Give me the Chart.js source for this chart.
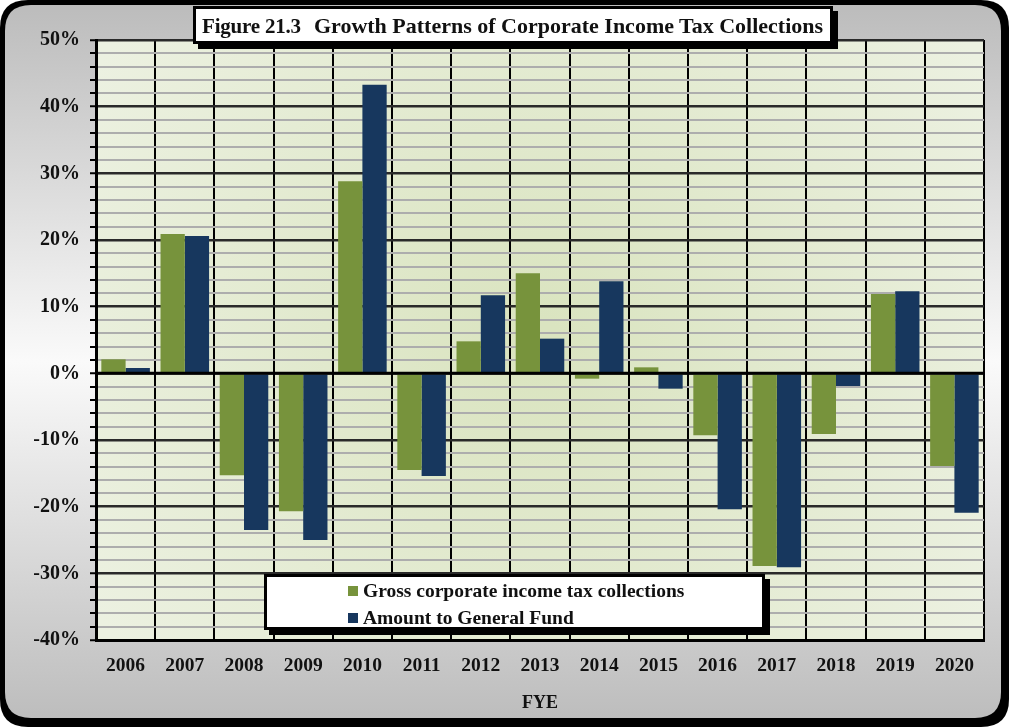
<!DOCTYPE html>
<html><head><meta charset="utf-8">
<script src="https://cdn.jsdelivr.net/npm/chart.js@4.4.1/dist/chart.umd.min.js"></script>
<style>
html,body{margin:0;padding:0;background:#fff;}
#wrap{position:relative;width:1009px;height:727px;overflow:hidden;}
canvas{position:absolute;left:0;top:0;}
.title{position:absolute;left:193px;top:6px;width:634px;height:32px;background:#fff;border:3px solid #000;box-shadow:5px 5px 0 #000;
 font-family:"Liberation Serif","Times New Roman",serif;font-weight:bold;color:#111;white-space:nowrap;line-height:33px;}
.title .fig{font-size:21px;margin-left:6px;letter-spacing:-0.2px;}
.title .main{font-size:22px;margin-left:13px;}
.legend{position:absolute;left:264px;top:574px;width:495px;height:50px;background:#fff;border:3px solid #000;box-shadow:5px 5px 0 #000;
 font-family:"Liberation Serif","Times New Roman",serif;font-weight:bold;font-size:19.5px;color:#111;}
.legend .row{position:absolute;left:81px;white-space:nowrap;line-height:22px;}
.legend .sw{display:inline-block;width:10px;height:10px;margin-right:5px;vertical-align:1px;}
</style>
</head><body>
<div id="wrap">
<canvas id="c" width="1009" height="727"></canvas>
<div class="title"><span class="fig">Figure 21.3</span><span class="main">Growth Patterns of Corporate Income Tax Collections</span></div>
<div class="legend">
 <div class="row" style="top:3px"><span class="sw" style="background:#77933c"></span><span id="l1"></span></div>
 <div class="row" style="top:30px"><span class="sw" style="background:#17375e"></span><span id="l2"></span></div>
</div>
</div>
<script>
const categories = ["2006","2007","2008","2009","2010","2011","2012","2013","2014","2015","2016","2017","2018","2019","2020"];
const grossCollections = [2.1, 20.9, -15.3, -20.7, 28.8, -14.5, 4.8, 15.0, -0.8, 0.9, -9.3, -28.9, -9.1, 11.9, -13.9];
const generalFund = [0.8, 20.6, -23.5, -25.0, 43.3, -15.4, 11.7, 5.2, 13.8, -2.3, -20.4, -29.1, -1.9, 12.3, -20.9];
const seriesNames = ["Gross corporate income tax collections", "Amount to General Fund"];
const yTickLabels = ["50%","40%","30%","20%","10%","0%","-10%","-20%","-30%","-40%"];
const axisTitle = "FYE";

document.getElementById('l1').textContent = seriesNames[0];
document.getElementById('l2').textContent = seriesNames[1];

const serif = '"Liberation Serif","Times New Roman",serif';

function rr(ctx,x,y,w,h,r){ctx.beginPath();ctx.moveTo(x+r,y);ctx.lineTo(x+w-r,y);ctx.quadraticCurveTo(x+w,y,x+w,y+r);ctx.lineTo(x+w,y+h-r);ctx.quadraticCurveTo(x+w,y+h,x+w-r,y+h);ctx.lineTo(x+r,y+h);ctx.quadraticCurveTo(x,y+h,x,y+h-r);ctx.lineTo(x,y+r);ctx.quadraticCurveTo(x,y,x+r,y);ctx.closePath();}

const bgPlugin = {
  id:'bg',
  beforeDraw(chart){
    const ctx = chart.ctx, W = chart.width, H = chart.height;
    ctx.save();
    ctx.fillStyle = '#000';
    rr(ctx,0,0,W,H,28); ctx.fill();
    const g = ctx.createLinearGradient(0,5,0,718);
    g.addColorStop(0,'#bcbcbc'); g.addColorStop(0.5,'#fafafa'); g.addColorStop(1,'#bdbdbd');
    ctx.fillStyle = g;
    rr(ctx,5,5,W-13,H-14,26); ctx.fill();
    const a = chart.chartArea;
    const rg = ctx.createRadialGradient((a.left+a.right)/2,(a.top+a.bottom)/2,20,(a.left+a.right)/2,(a.top+a.bottom)/2,520);
    rg.addColorStop(0,'#dae4c0'); rg.addColorStop(1,'#ecf1e1');
    ctx.fillStyle = rg;
    ctx.fillRect(a.left,a.top,a.right-a.left,a.bottom-a.top);
    ctx.restore();
  },
  afterDatasetsDraw(chart){
    const ctx = chart.ctx, a = chart.chartArea, y = chart.scales.y.getPixelForValue(0);
    ctx.save();
    ctx.strokeStyle = '#000'; ctx.lineWidth = 3;
    ctx.beginPath(); ctx.moveTo(a.left,y); ctx.lineTo(a.right,y); ctx.stroke();
    ctx.restore();
  }
};

new Chart(document.getElementById('c'), {
  type:'bar',
  data:{
    labels: categories,
    datasets:[
      {label:seriesNames[0], data:grossCollections, backgroundColor:'#77933c', categoryPercentage:0.82, barPercentage:1.0},
      {label:seriesNames[1], data:generalFund, backgroundColor:'#17375e', categoryPercentage:0.82, barPercentage:1.0}
    ]
  },
  options:{
    responsive:false, animation:false, devicePixelRatio:1,
    layout:{padding:{left:0,top:40,right:25,bottom:0}},
    plugins:{legend:{display:false}, title:{display:false}, tooltip:{enabled:false}},
    scales:{
      x:{
        offset:true,
        grid:{offset:true, color:'#000', lineWidth:2, drawTicks:false},
        border:{color:'#000', width:3},
        ticks:{color:'#111', padding:14, font:{family:serif, weight:'bold', size:19.5}},
        title:{display:true, text:axisTitle, color:'#111', font:{family:serif, weight:'bold', size:18}, padding:{top:0,bottom:13}},
        afterFit(s){ s.height = 87; }
      },
      y:{
        min:-40, max:50,
        grid:{
          color(ctx){ const v = ctx.tick ? ctx.tick.value : 0; if (v===0) return '#000'; return (v%10===0) ? '#2a2a2a' : '#adadad'; },
          lineWidth(ctx){ const v = ctx.tick ? ctx.tick.value : 0; return (v%10===0) ? 2.5 : 2; },
          tickColor:'#000', tickLength:6, tickWidth:2
        },
        border:{color:'#000', width:3},
        ticks:{
          stepSize:2, autoSkip:false, color:'#111', padding:10,
          font:{family:serif, weight:'bold', size:20},
          callback(v){ if (v%10!==0) return ''; const i = (50 - v)/10; return yTickLabels[i]; }
        },
        afterFit(s){ s.width = 96; }
      }
    }
  },
  plugins:[bgPlugin]
});
</script>
</body></html>
